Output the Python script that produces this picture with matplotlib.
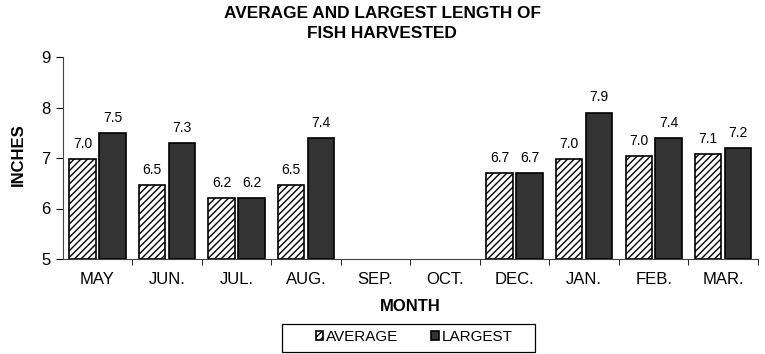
import numpy as np
import matplotlib
matplotlib.use("Agg")
from matplotlib import pyplot as plt
from matplotlib.patches import Rectangle

months = ["MAY", "JUN.", "JUL.", "AUG.", "SEP.", "OCT.", "DEC.", "JAN.", "FEB.", "MAR."]
average = [6.98, 6.46, 6.2, 6.46, None, None, 6.7, 6.98, 7.03, 7.07]
largest = [7.5, 7.3, 6.2, 7.4, None, None, 6.7, 7.9, 7.4, 7.2]

plt.rcParams["font.family"] = ["Liberation Sans", "DejaVu Sans"]
plt.rcParams["hatch.linewidth"] = 1.0

W, H = 765, 354
fig = plt.figure(figsize=(W / 100, H / 100), dpi=100)
ax = fig.add_axes([62.7 / W, 1 - 259 / H, 695.3 / W, 202 / H])

x = np.arange(len(months))
w = 0.38
off = 0.215

for i, (a, l) in enumerate(zip(average, largest)):
    if a is not None:
        ax.bar(x[i] - off, a - 5, w, bottom=5, color="white", edgecolor="black",
               hatch="/////", linewidth=1.2, label="AVERAGE" if i == 0 else None)
        ax.text(x[i] - off, a + 0.3, f"{a:.1f}", ha="center", va="center", fontsize=10)
    if l is not None:
        ax.bar(x[i] + off, l - 5, w, bottom=5, color="#333333", edgecolor="black",
               linewidth=1.2, label="LARGEST" if i == 0 else None)
        ax.text(x[i] + off, l + 0.3, f"{l:.1f}", ha="center", va="center", fontsize=10)

ax.set_xlim(-0.5, len(months) - 0.5)
ax.set_ylim(5, 9)
ax.set_yticks([5, 6, 7, 8, 9])
ax.tick_params(axis="y", labelsize=12, length=5, direction="out", pad=4)
ax.set_xticks(x)
ax.set_xticklabels(months, fontsize=12)
ax.tick_params(axis="x", length=0, pad=9)
ax.set_xticks(np.arange(0.5, len(months)), minor=True)
ax.tick_params(axis="x", which="minor", length=4, direction="out")

ax.spines["top"].set_visible(False)
ax.spines["right"].set_visible(False)
ax.spines["left"].set_color("#444444")
ax.spines["bottom"].set_color("#444444")

ax.set_xlabel("MONTH", fontsize=12, fontweight="bold", labelpad=9)
fig.text(18 / W, 1 - 155 / H, "INCHES", rotation=90, ha="center", va="center",
         fontsize=12, fontweight="bold")
fig.text(382 / W, 1 - 13 / H, "AVERAGE AND LARGEST LENGTH OF", ha="center", va="center",
         fontsize=12.4, fontweight="bold")
fig.text(382 / W, 1 - 34 / H, "FISH HARVESTED", ha="center", va="center",
         fontsize=12.4, fontweight="bold")

# legend box drawn by hand, entries placed inside
fig.patches.append(Rectangle((282 / W, 1 - 352 / H), 253 / W, 28 / H,
                             transform=fig.transFigure, fill=False,
                             edgecolor="black", linewidth=0.9))
leg = fig.legend(loc="center", bbox_to_anchor=(414 / W, 1 - 337 / H), ncol=2,
                 frameon=False, fontsize=11,
                 handlelength=0.5, handleheight=0.5, handletextpad=0.15,
                 columnspacing=2.2, borderpad=0, borderaxespad=0)

fig.savefig("out.png", dpi=100)
